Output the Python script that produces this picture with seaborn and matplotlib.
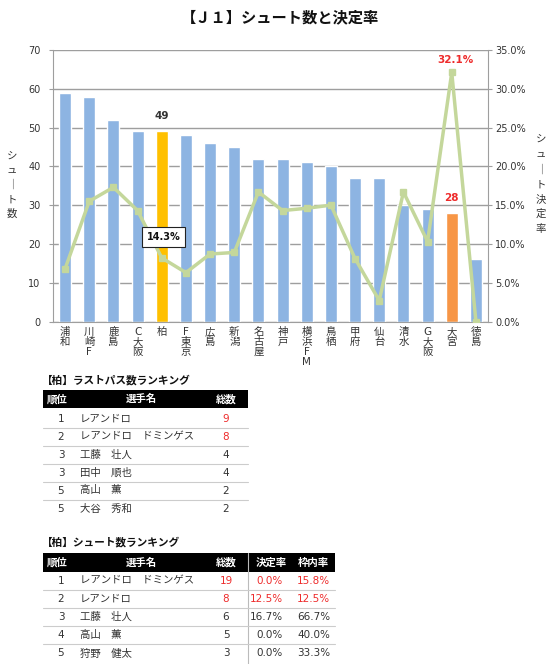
import matplotlib
matplotlib.use("Agg")
import matplotlib.pyplot as plt
from matplotlib.lines import Line2D
from matplotlib.patches import Rectangle
import seaborn as sns
import pandas as pd

# chart data
teams = ["浦和", "川崎F", "鹿島", "C大阪", "柏", "F東京", "広島", "新潟", "名古屋",
         "神戸", "横浜FM", "鳥栖", "甲府", "仙台", "清水", "G大阪", "大宮", "徳島"]
shots = [59, 58, 52, 49, 49, 48, 46, 45, 42, 42, 41, 40, 37, 37, 30, 29, 28, 16]
rates = [6.8, 15.5, 17.3, 14.3, 8.2, 6.3, 8.7, 8.9, 16.7, 14.3, 14.6, 15.0, 8.1, 2.7,
         16.7, 10.3, 32.1, 0.0]
tick_labels = ["浦\n和", "川\n崎\nF", "鹿\n島", "C\n大\n阪", "柏", "F\n東\n京", "広\n島",
               "新\n潟", "名\n古\n屋", "神\n戸", "横\n浜\nF\nM", "鳥\n栖", "甲\n府",
               "仙\n台", "清\n水", "G\n大\n阪", "大\n宮", "徳\n島"]
box_label = "14.3%"

# last pass ranking
pass_rank = ["1", "2", "3", "3", "5", "5"]
pass_names = ["レアンドロ", "レアンドロ　ドミンゲス", "工藤　壮人", "田中　順也", "高山　薫", "大谷　秀和"]
pass_total = ["9", "8", "4", "4", "2", "2"]

# shot ranking
shot_rank = ["1", "2", "3", "4", "5"]
shot_names = ["レアンドロ　ドミンゲス", "レアンドロ", "工藤　壮人", "高山　薫", "狩野　健太"]
shot_total = ["19", "8", "6", "5", "3"]
shot_goal_rate = ["0.0%", "12.5%", "16.7%", "0.0%", "0.0%"]
shot_on_target = ["15.8%", "12.5%", "66.7%", "40.0%", "33.3%"]

BLUE = "#8DB4E2"
YELLOW = "#FFC000"
ORANGE = "#F79646"
GREEN = "#C4D79B"
RED = "#EE2B2B"
GRID = "#9E9E9E"
TXT = "#333333"

sns.set_style("white")
plt.rcParams["font.family"] = ["DejaVu Sans", "Noto Sans CJK JP"]

W, H = 560, 664
fig = plt.figure(figsize=(W / 100, H / 100), dpi=100)


def fx(x):
    return x / W


def fy(y):
    return 1 - y / H


ax = fig.add_axes([fx(53), fy(321.5), fx(435), 271.5 / H])

df = pd.DataFrame({"team": teams, "shots": shots, "rate": rates})
colors = {t: BLUE for t in teams}
colors["柏"] = YELLOW
colors["大宮"] = ORANGE
sns.barplot(data=df, x="team", y="shots", hue="team", palette=colors, legend=False,
            width=0.5, saturation=1, ax=ax, zorder=2)
ax.set_ylim(0, 70)
ax.set_xlim(-0.5, len(teams) - 0.5)
ax.set_yticks(range(0, 71, 10))
ax.yaxis.grid(True, color=GRID, lw=1)
ax.set_axisbelow(True)
ax.set_xticks(range(len(teams)))
ax.set_xticklabels(tick_labels, fontsize=7.5, color=TXT, linespacing=1.0, va="top")
ax.set_xlabel("")
ax.set_ylabel("")
ax.tick_params(axis="y", labelsize=7, labelcolor=TXT, length=3, color=GRID, pad=6)
ax.tick_params(axis="x", length=0, pad=4)
for s in ["top", "right"]:
    ax.spines[s].set_visible(False)
for s in ["left", "bottom"]:
    ax.spines[s].set_color(GRID)

ax2 = ax.twinx()
ax2.plot(range(len(teams)), [r / 100 for r in rates], color=GREEN, lw=2.5,
         marker="s", ms=5, mfc=GREEN, mec=GREEN)
ax2.set_ylim(0, 0.35)
ax2.set_yticks([i * 0.05 for i in range(8)])
ax2.set_yticklabels([f"{i * 5:.1f}%" for i in range(8)])
ax2.tick_params(axis="y", labelsize=7, labelcolor=TXT, length=3, color=GRID, pad=2)
for s in ["top", "left", "bottom"]:
    ax2.spines[s].set_visible(False)
ax2.spines["right"].set_color(GRID)

# data labels
kashiwa = teams.index("柏")
omiya = teams.index("大宮")
ax.annotate(str(shots[kashiwa]), (kashiwa, shots[kashiwa]), xytext=(0, 11),
            textcoords="offset points", ha="center", va="center",
            fontsize=7.5, fontweight="bold", color=TXT)
ax.annotate(str(shots[omiya]), (omiya, shots[omiya]), xytext=(0, 11),
            textcoords="offset points", ha="center", va="center",
            fontsize=7.5, fontweight="bold", color=RED)
ax2.annotate(f"{rates[omiya]:.1f}%", (omiya, rates[omiya] / 100), xytext=(3, 9),
             textcoords="offset points", ha="center", va="center",
             fontsize=7.5, fontweight="bold", color=RED)
ax2.text(kashiwa + 0.08, 0.109, box_label, ha="center", va="center", fontsize=7,
         fontweight="bold", color="#111111", zorder=5,
         bbox=dict(boxstyle="square,pad=0.5", fc="white", ec="#222222", lw=0.8))

fig.text(0.5, fy(18), "【Ｊ１】シュート数と決定率", ha="center", va="center",
         fontsize=11, fontweight="bold", color="#111111")
fig.text(fx(12), fy(185), "シ\nュ\n｜\nト\n数", ha="center", va="center",
         fontsize=7.5, color=TXT, linespacing=1.55)
fig.text(fx(541), fy(184), "シ\nュ\n｜\nト\n決\n定\n率", ha="center", va="center",
         fontsize=7.5, color=TXT, linespacing=1.6)


# tables
def hline(x0, x1, y, color="#CCCCCC", lw=0.8):
    fig.add_artist(Line2D([fx(x0), fx(x1)], [fy(y), fy(y)], color=color, lw=lw))


def header(x0, x1, y0, y1, cols):
    fig.add_artist(Rectangle((fx(x0), fy(y1)), fx(x1 - x0), (y1 - y0) / H,
                             facecolor="black", edgecolor="none"))
    for x, t in cols:
        fig.text(fx(x), fy((y0 + y1) / 2), t, ha="center", va="center",
                 fontsize=7.5, fontweight="bold", color="white")


# last pass table
fig.text(fx(42), fy(380), "【柏】ラストパス数ランキング", ha="left", va="center",
         fontsize=7.7, fontweight="bold", color="#111111")
header(43, 248, 390, 408, [(57, "順位"), (141, "選手名"), (226, "総数")])
row_y = [418.5, 436.5, 454.5, 472.5, 490.5, 508.5]
for i, y in enumerate(row_y):
    fig.text(fx(61), fy(y), pass_rank[i], ha="center", va="center", fontsize=7.5, color=TXT)
    fig.text(fx(80), fy(y), pass_names[i], ha="left", va="center", fontsize=7.5, color=TXT)
    c = RED if i < 2 else TXT
    fig.text(fx(226), fy(y), pass_total[i], ha="center", va="center", fontsize=7.5, color=c)
    if i < len(row_y) - 1:
        hline(43, 248, y + 9)

# shot table
fig.text(fx(42), fy(542), "【柏】シュート数ランキング", ha="left", va="center",
         fontsize=7.7, fontweight="bold", color="#111111")
header(43, 335, 553, 572, [(57, "順位"), (141, "選手名"), (226, "総数"),
                           (271, "決定率"), (313, "枠内率")])
fig.add_artist(Line2D([fx(247.5), fx(247.5)], [fy(553), fy(664)], color="#BBBBBB", lw=0.8))
row_y = [580.5, 598.5, 617, 635, 653.5]
for i, y in enumerate(row_y):
    c = RED if i < 2 else TXT
    fig.text(fx(61), fy(y), shot_rank[i], ha="center", va="center", fontsize=7.5, color=TXT)
    fig.text(fx(80), fy(y), shot_names[i], ha="left", va="center", fontsize=7.5, color=TXT)
    fig.text(fx(226), fy(y), shot_total[i], ha="center", va="center", fontsize=7.5, color=c)
    fig.text(fx(283), fy(y), shot_goal_rate[i], ha="right", va="center", fontsize=7.5, color=c)
    fig.text(fx(330), fy(y), shot_on_target[i], ha="right", va="center", fontsize=7.5, color=c)
    if i < len(row_y) - 1:
        hline(43, 335, y + 9.2)

fig.savefig("out.png", dpi=100)
